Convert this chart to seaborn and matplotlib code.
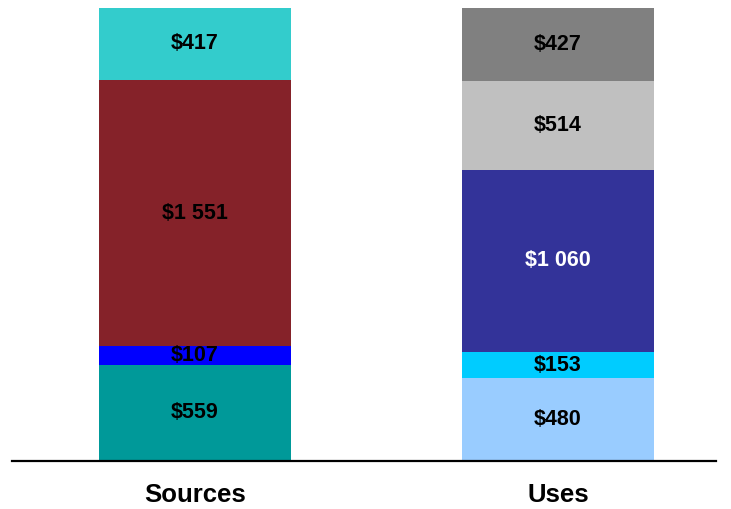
import matplotlib
matplotlib.use("Agg")
import matplotlib.pyplot as plt
import seaborn as sns
import numpy as np

sides = ["Sources", "Uses"]

# Segment values listed bottom to top
sources_values = [559, 107, 1551, 417]
sources_colors = ["#009999", "#0000FF", "#852229", "#33CCCC"]
sources_text = ["black", "black", "black", "black"]

uses_values = [480, 153, 1060, 514, 427]
uses_colors = ["#99CCFF", "#00CCFF", "#333399", "#C0C0C0", "#808080"]
uses_text = ["black", "black", "white", "black", "black"]

sns.set_theme(style="white")
plt.rcParams["font.family"] = ["Liberation Sans", "DejaVu Sans"]

fig = plt.figure(figsize=(7.31, 5.09), dpi=100)
ax = fig.add_axes([12 / 731, 1 - 461 / 509, 704 / 731, 453 / 509])

bar_width = 0.529


def fmt(v):
    return "$" + f"{v:,}".replace(",", " ")


stacks = [
    (sides[0], sources_values, sources_colors, sources_text),
    (sides[1], uses_values, uses_colors, uses_text),
]

for idx, (side, values, colors, tcolors) in enumerate(stacks):
    tops = np.cumsum(values)
    # draw tallest cumulative bar first, shorter ones on top of it
    for j in range(len(values) - 1, -1, -1):
        sns.barplot(x=[side], y=[tops[j]], order=sides, color=colors[j],
                    saturation=1, width=bar_width, linewidth=0, ax=ax)
    bottoms = tops - np.array(values)
    for j, v in enumerate(values):
        ax.text(idx, bottoms[j] + v / 2, fmt(v), ha="center", va="center",
                fontsize=15.5, fontweight="bold", color=tcolors[j])

total = max(sum(sources_values), sum(uses_values))
ax.set_ylim(0, total)
ax.set_xlim(-0.504, 1.435)
ax.set_ylabel("")
ax.set_xlabel("")
ax.set_yticks([])
ax.tick_params(axis="x", length=0, pad=16)
for lab in ax.get_xticklabels():
    lab.set_fontsize(18.5)
    lab.set_fontweight("bold")
    lab.set_color("black")
for s in ["top", "right", "left"]:
    ax.spines[s].set_visible(False)
ax.spines["bottom"].set_color("black")
ax.spines["bottom"].set_linewidth(1.6)
ax.set_facecolor("white")
fig.patch.set_facecolor("white")

fig.savefig("out.png", dpi=100, facecolor="white")
